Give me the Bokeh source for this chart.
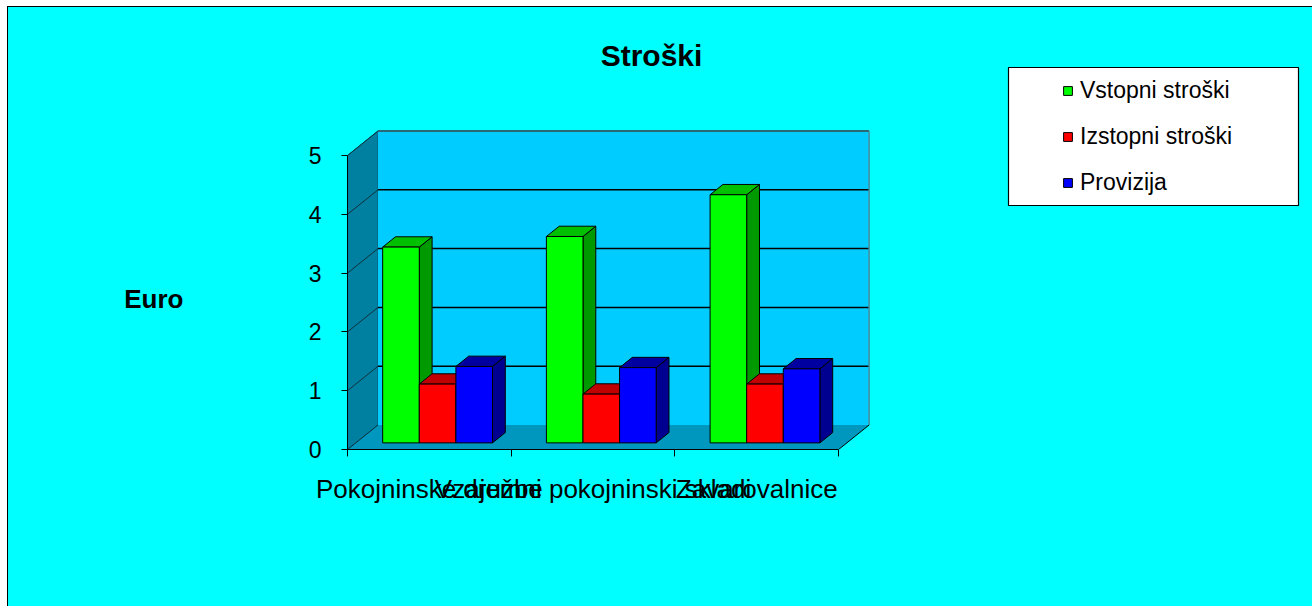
from bokeh.plotting import figure
from bokeh.models import (ColumnDataSource, FixedTicker, Legend, LegendItem, Label,
                          BoxAnnotation, Range1d, LinearAxis)
from bokeh.embed import file_html
from bokeh.resources import INLINE

# ---------------- data ----------------
categories = ["Pokojninske družbe", "Vzajemni pokojninski skladi", "Zavarovalnice"]
series_names = ["Vstopni stroški", "Izstopni stroški", "Provizija"]
vstopni = [3.33, 3.51, 4.22]
izstopni = [1.00, 0.83, 1.00]
provizija = [1.30, 1.28, 1.26]
y_ticks = [0, 1, 2, 3, 4, 5]
title_text = "Stroški"
y_label = "Euro"

# ---------------- styles / layout ----------------
FONT = "Liberation Sans"
CYAN = "#00FFFF"
front_colors = ["#00FF00", "#FF0000", "#0000FF"]
top_colors = ["#00C000", "#C00000", "#0000A0"]
side_colors = ["#009A00", "#900000", "#000090"]

OX, OY = 8, 7                 # page position of the figure
W, H = 1304, 599
FRAME_L, FRAME_B = 347, 449   # page pixels of the front axes
PX_X = 163.7     # pixels per category
PX_Y = 58.8      # pixels per euro
X_END = (OX + W - FRAME_L) / PX_X
Y_END = (FRAME_B - OY) / PX_Y
DX = 30.5 / PX_X          # 3D depth offset of the walls
DY = 24.5 / PX_Y
FRONT_T = 0.27            # bars sit at this depth fraction
DEPTH_T = 0.42            # bar depth fraction
BAR_W = 36.6 / PX_X
GROUP_GAP = (1 - 3 * BAR_W) / 2


def px_x(x):
    return (x - FRAME_L) / PX_X


def px_y(y):
    return (FRAME_B - y) / PX_Y


p = figure(width=W, height=H, x_range=Range1d(0, X_END), y_range=Range1d(0, Y_END),
           output_backend="svg", toolbar_location=None,
           x_axis_type=None, y_axis_type=None,
           min_border_left=FRAME_L - OX, min_border_right=0,
           min_border_top=0, min_border_bottom=OY + H - FRAME_B,
           background_fill_color=CYAN, border_fill_color=CYAN,
           outline_line_color=None)
p.styles = {"margin-left": f"{OX}px", "margin-top": f"{OY}px",
            "outline": "1px solid black", "background-color": CYAN}

n = len(categories)
ymax = y_ticks[-1]

# ---- walls and floor ----
p.patch([0, 0, DX, DX], [0, ymax, ymax + DY, DY], fill_color="#0080A0",
        line_color="#0A5A70", line_width=1)
p.quad(left=[DX], right=[n + DX], bottom=[DY], top=[ymax + DY],
       fill_color="#00CCFF", line_color=None)
p.patch([0, n, n + DX, DX], [0, 0, DY, DY], fill_color="#0097BF", line_color=None)

# back-wall gridlines
p.segment(x0=[DX] * (len(y_ticks) - 2), x1=[n + DX] * (len(y_ticks) - 2),
          y0=[k + DY for k in y_ticks[1:-1]], y1=[k + DY for k in y_ticks[1:-1]],
          line_color="#000000", line_width=1.5)
# top and right edges of back wall
p.segment(x0=[DX], x1=[n + DX], y0=[ymax + DY], y1=[ymax + DY],
          line_color="#2A6878", line_width=2)
p.segment(x0=[n + DX], x1=[n + DX], y0=[DY], y1=[ymax + DY],
          line_color="#4A8A9A", line_width=1.5)
# side-wall gridlines
p.segment(x0=[0] * len(y_ticks), x1=[DX] * len(y_ticks),
          y0=y_ticks, y1=[k + DY for k in y_ticks],
          line_color="#10303C", line_width=1)
# floor right edge
p.segment(x0=[n], x1=[n + DX], y0=[0], y1=[DY], line_color="#000000", line_width=1)

# ---- bars ----
fx, fy = FRONT_T * DX, FRONT_T * DY
bdx, bdy = DEPTH_T * DX, DEPTH_T * DY
series = [vstopni, izstopni, provizija]
legend_items = []
for j, vals in enumerate(series):
    xs, ys, cols = [], [], []
    lefts, rights, bottoms, tops = [], [], [], []
    for i, v in enumerate(vals):
        x0 = i + GROUP_GAP + fx + j * BAR_W
        x1 = x0 + BAR_W
        y0 = fy
        y1 = fy + v
        # side face
        xs.append([x1, x1, x1 + bdx, x1 + bdx]); ys.append([y0, y1, y1 + bdy, y0 + bdy])
        cols.append(side_colors[j])
        # top face
        xs.append([x0, x1, x1 + bdx, x0 + bdx]); ys.append([y1, y1, y1 + bdy, y1 + bdy])
        cols.append(top_colors[j])
        lefts.append(x0); rights.append(x1); bottoms.append(y0); tops.append(y1)
    p.patches(xs="xs", ys="ys", fill_color="c", line_color="black", line_width=1,
              source=ColumnDataSource(dict(xs=xs, ys=ys, c=cols)))
    r = p.quad(left="l", right="r", bottom="b", top="t", fill_color=front_colors[j],
               line_color="black", line_width=1,
               source=ColumnDataSource(dict(l=lefts, r=rights, b=bottoms, t=tops)))
    legend_items.append(LegendItem(label=series_names[j], renderers=[r]))

# ---- axes ----
yaxis = LinearAxis(ticker=FixedTicker(ticks=y_ticks, minor_ticks=[]), bounds=(0, ymax))
yaxis.major_tick_out = 6
yaxis.major_tick_in = 0
yaxis.major_tick_line_color = "black"
yaxis.axis_line_color = "black"
yaxis.major_label_standoff = 20
yaxis.major_label_text_font = FONT
yaxis.major_label_text_font_size = "23px"
yaxis.major_label_text_color = "black"
p.add_layout(yaxis, "left")

# axis title "Euro", placed as a single label on a second left axis
euro_pos = px_y(298)
euro_axis = LinearAxis(ticker=FixedTicker(ticks=[euro_pos], minor_ticks=[]))
euro_axis.major_label_overrides = {euro_pos: y_label}
euro_axis.axis_line_color = None
euro_axis.major_tick_line_color = None
euro_axis.major_tick_out = 0
euro_axis.major_tick_in = 0
euro_axis.major_label_standoff = 122
euro_axis.major_label_text_font = FONT
euro_axis.major_label_text_font_size = "26px"
euro_axis.major_label_text_font_style = "bold"
euro_axis.major_label_text_color = "black"
p.add_layout(euro_axis, "left")

centers = [i + 0.5 for i in range(n)]
xaxis = LinearAxis(ticker=FixedTicker(ticks=centers, minor_ticks=list(range(n + 1))),
                   bounds=(0, n))
xaxis.major_label_overrides = {c: lab for c, lab in zip(centers, categories)}
xaxis.major_tick_line_color = None
xaxis.major_tick_out = 0
xaxis.major_tick_in = 0
xaxis.minor_tick_out = 7
xaxis.minor_tick_in = 0
xaxis.minor_tick_line_color = "black"
xaxis.axis_line_color = "black"
xaxis.major_label_standoff = 17
xaxis.major_label_text_font = FONT
xaxis.major_label_text_font_size = "26px"
xaxis.major_label_text_color = "black"
p.add_layout(xaxis, "below")

# ---- title ----
p.add_layout(Label(x=px_x(651), y=px_y(55), text=title_text,
                   text_align="center", text_baseline="middle", text_font=FONT,
                   text_font_size="30px", text_font_style="bold", text_color="black"))

# ---- legend ----
p.add_layout(BoxAnnotation(left=px_x(1008), right=px_x(1298),
                           top=px_y(67), bottom=px_y(205),
                           fill_color="white", fill_alpha=1.0, line_color="black",
                           line_width=1.2, line_alpha=1.0))
legend = Legend(items=legend_items, location=(1064 - FRAME_L - 2, FRAME_B - 205 + 9),
                padding=12, spacing=19, glyph_width=11, glyph_height=11,
                label_standoff=7, label_height=24, margin=0,
                background_fill_alpha=0, border_line_color=None,
                label_text_font=FONT, label_text_font_size="23px",
                label_text_color="black")
p.add_layout(legend)

open("out.html", "w").write(file_html(p, INLINE))
